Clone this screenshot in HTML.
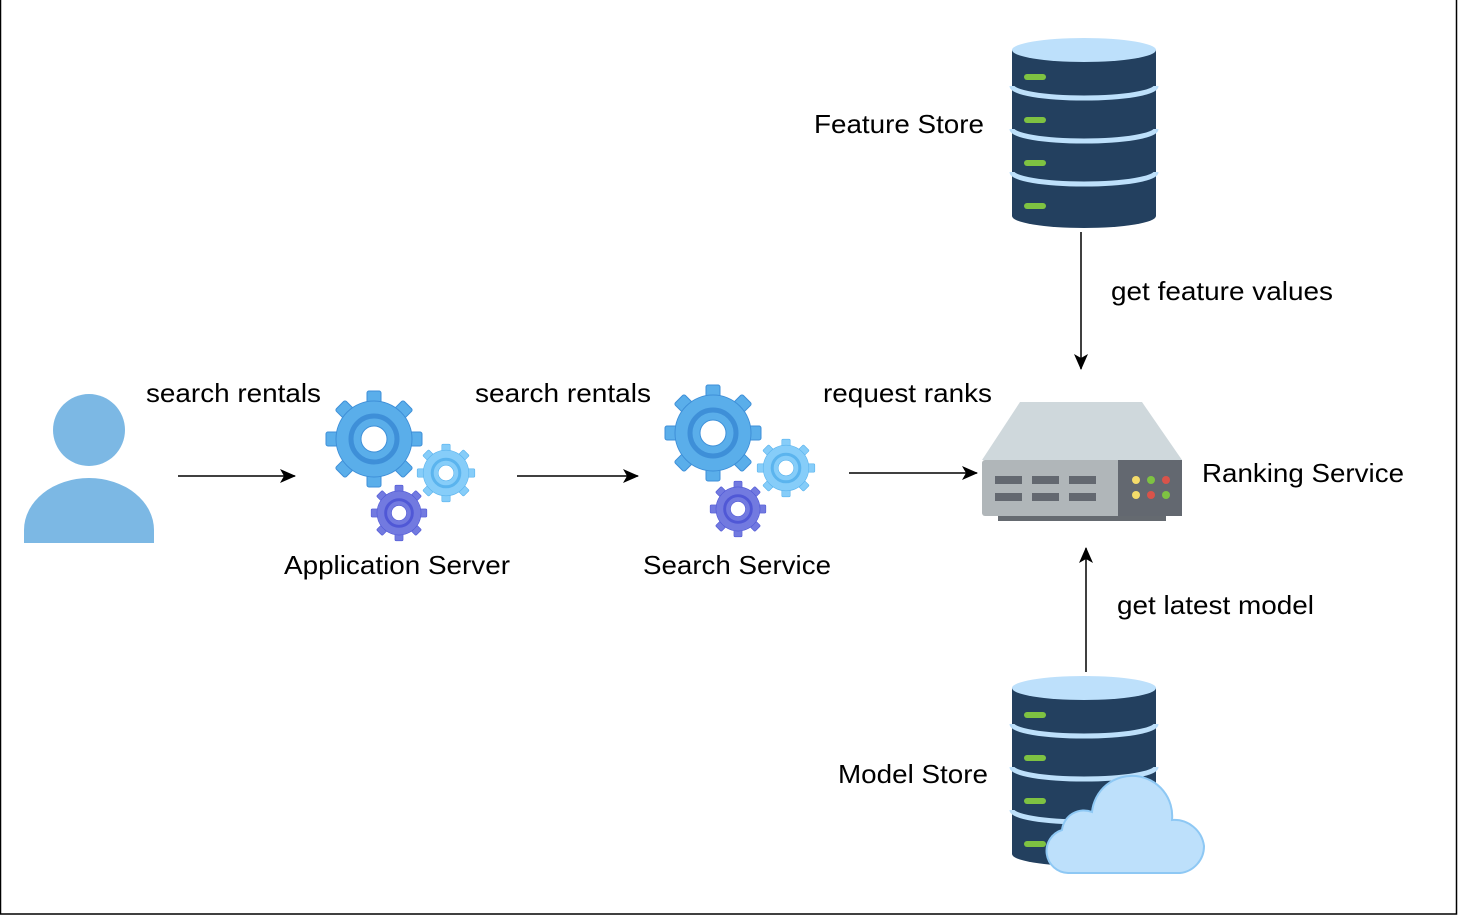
<!DOCTYPE html>
<html><head><meta charset="utf-8"><style>
html,body{margin:0;padding:0;background:#fff}
svg{display:block}
text{font-family:"Liberation Sans",Arial,sans-serif;font-size:26px;fill:#000}
</style></head><body>
<svg width="1458" height="918" viewBox="0 0 1458 918" xmlns="http://www.w3.org/2000/svg">
<defs>
<marker id="ah" markerWidth="16" markerHeight="14" refX="15" refY="7" orient="auto" markerUnits="userSpaceOnUse">
<path d="M0,0 L16,7 L0,14 L4,7 Z" fill="#000"/></marker>
<g id="teeth">
<rect x="-7" y="-48" width="14" height="96" rx="2"/>
<rect x="-7" y="-48" width="14" height="96" rx="2" transform="rotate(45)"/>
<rect x="-7" y="-48" width="14" height="96" rx="2" transform="rotate(90)"/>
<rect x="-7" y="-48" width="14" height="96" rx="2" transform="rotate(135)"/>
</g>
<g id="gear">
<use href="#teeth"/>
<circle r="38"/>
<circle r="23" fill="none" stroke-width="5"/>
<circle r="13" fill="#fff"/>
</g>
<g id="db">
<path d="M0,12 L0,178 A72,12 0 0 0 144,178 L144,12 Z" fill="#23405f"/>
<g fill="none" stroke="#bde0fb" stroke-width="5">
<path d="M0,48 A72,12 0 0 0 144,48"/>
<path d="M0,91 A72,12 0 0 0 144,91"/>
<path d="M0,134 A72,12 0 0 0 144,134"/>
</g>
<ellipse cx="72" cy="12" rx="72" ry="12" fill="#bde0fb"/>
<rect x="12" y="36" width="22" height="6" rx="3" fill="#7ec242"/>
<rect x="12" y="79" width="22" height="6" rx="3" fill="#7ec242"/>
<rect x="12" y="122" width="22" height="6" rx="3" fill="#7ec242"/>
<rect x="12" y="165" width="22" height="6" rx="3" fill="#7ec242"/>
</g>
</defs>
<rect x="0.5" y="-1" width="1456" height="915" fill="none" stroke="#000" stroke-width="1.5"/>

<circle cx="89" cy="430" r="36" fill="#7cb8e4"/>
<path d="M24,543 L24,530 A65,52 0 0 1 154,530 L154,543 Z" fill="#7cb8e4"/>

<g fill="#5aaeea" transform="translate(374,439)"><use href="#gear" stroke="#3e8fd8"/></g>
<g fill="#86cdf9" transform="translate(446,473) scale(0.6)"><use href="#gear" stroke="#5bb4ee"/></g>
<g fill="#727ae0" transform="translate(399,513) scale(0.58)"><use href="#gear" stroke="#5058d6"/></g>
<g fill="#5aaeea" transform="translate(713,433)"><use href="#gear" stroke="#3e8fd8"/></g>
<g fill="#86cdf9" transform="translate(786,468) scale(0.6)"><use href="#gear" stroke="#5bb4ee"/></g>
<g fill="#727ae0" transform="translate(738,509) scale(0.58)"><use href="#gear" stroke="#5058d6"/></g>

<rect x="998" y="512" width="168" height="9" fill="#656a70"/>
<path d="M1020,402 L1142,402 L1182,460 L982,460 Z" fill="#cfd8dc"/>
<rect x="982" y="460" width="200" height="56" rx="3" fill="#b0b6b9"/>
<rect x="1118" y="460" width="64" height="56" fill="#636870"/>
<g fill="#636870">
<rect x="995" y="476" width="27" height="8"/><rect x="1032" y="476" width="27" height="8"/><rect x="1069" y="476" width="27" height="8"/>
<rect x="995" y="493" width="27" height="8"/><rect x="1032" y="493" width="27" height="8"/><rect x="1069" y="493" width="27" height="8"/>
</g>
<circle cx="1136" cy="480" r="4" fill="#f5dc6a"/><circle cx="1151" cy="480" r="4" fill="#7ec242"/><circle cx="1166" cy="480" r="4" fill="#d9534a"/>
<circle cx="1136" cy="495" r="4" fill="#f5dc6a"/><circle cx="1151" cy="495" r="4" fill="#d9534a"/><circle cx="1166" cy="495" r="4" fill="#7ec242"/>

<use href="#db" x="1012" y="38"/>
<use href="#db" x="1012" y="676"/>
<g fill="#bde0fb" stroke="#8ec8f4" stroke-width="2">
<path d="M1068,873 A22,22 0 0 1 1062,830 A22,22 0 0 1 1092,812 A40,40 0 0 1 1172,820 A30,30 0 0 1 1204,846 A27,27 0 0 1 1180,873 Z"/>
</g>

<g stroke="#000" stroke-width="1.5" fill="none">
<line x1="178" y1="476" x2="295" y2="476" marker-end="url(#ah)"/>
<line x1="517" y1="476" x2="638" y2="476" marker-end="url(#ah)"/>
<line x1="849" y1="473" x2="977" y2="473" marker-end="url(#ah)"/>
<line x1="1081" y1="232" x2="1081" y2="369" marker-end="url(#ah)"/>
<line x1="1086" y1="672" x2="1086" y2="548" marker-end="url(#ah)"/>
</g>

<text x="146" y="402" textLength="175" lengthAdjust="spacingAndGlyphs">search rentals</text>
<text x="475" y="402" textLength="176" lengthAdjust="spacingAndGlyphs">search rentals</text>
<text x="823" y="402" textLength="169" lengthAdjust="spacingAndGlyphs">request ranks</text>
<text x="284" y="574" textLength="226" lengthAdjust="spacingAndGlyphs">Application Server</text>
<text x="643" y="574" textLength="188" lengthAdjust="spacingAndGlyphs">Search Service</text>
<text x="1202" y="482" textLength="202" lengthAdjust="spacingAndGlyphs">Ranking Service</text>
<text x="814" y="133" textLength="170" lengthAdjust="spacingAndGlyphs">Feature Store</text>
<text x="1111" y="300" textLength="222" lengthAdjust="spacingAndGlyphs">get feature values</text>
<text x="1117" y="614" textLength="197" lengthAdjust="spacingAndGlyphs">get latest model</text>
<text x="838" y="783" textLength="150" lengthAdjust="spacingAndGlyphs">Model Store</text>
</svg>
</body></html>
